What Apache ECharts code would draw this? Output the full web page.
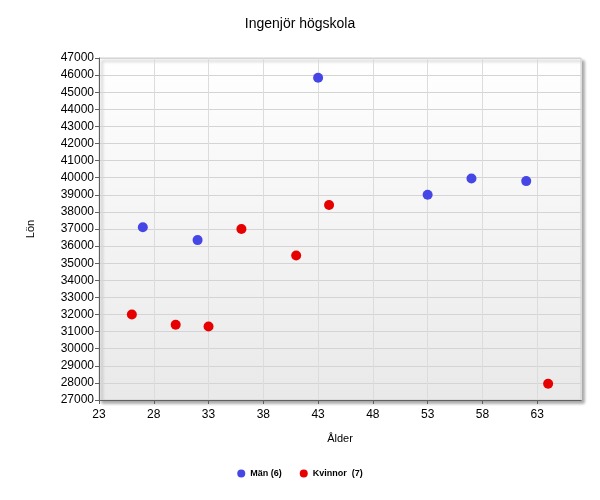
<!DOCTYPE html>
<html>
<head>
<meta charset="utf-8">
<script src="https://cdn.jsdelivr.net/npm/echarts@6/dist/echarts.min.js"></script>
<style>html,body{margin:0;padding:0;background:#fff}#c{width:600px;height:500px}</style>
</head>
<body>
<div id="c"></div>
<script>
const title = 'Ingenjör högskola';
const xName = 'Ålder';
const yName = 'Lön';
const menName = 'Män (6)';
const womenName = 'Kvinnor  (7)';
const menAge = [27, 32, 43, 53, 57, 62];
const menPay = [37100, 36350, 45850, 39000, 39950, 39800];
const womenAge = [26, 30, 33, 36, 41, 44, 64];
const womenPay = [32000, 31400, 31300, 37000, 35450, 38400, 27950];

const pair = (xs, ys) => xs.map((x, i) => [x, ys[i]]);
const font = 'Liberation Sans, Arial, sans-serif';

const chart = echarts.init(document.getElementById('c'));
chart.setOption({
  animation: false,
  title: { text: title, left: 'center', top: 12, textStyle: { fontFamily: font, fontSize: 14, fontWeight: 'normal', color: '#000' } },
  legend: {
    bottom: 17, left: 'center', itemWidth: 8, itemHeight: 8, itemGap: 18,
    textStyle: { fontFamily: font, fontSize: 9, fontWeight: 'bold', color: '#000' },
    data: [{ name: menName, icon: 'circle' }, { name: womenName, icon: 'circle' }]
  },
  grid: {
    left: 99, right: 19, top: 58, bottom: 100, show: true,
    backgroundColor: new echarts.graphic.LinearGradient(0, 0, 0, 1, [{ offset: 0, color: '#ffffff' }, { offset: 1, color: '#e9e9e9' }]),
    borderColor: '#d0d0d0', borderWidth: 1,
    shadowColor: 'rgba(0,0,0,0.35)', shadowBlur: 3, shadowOffsetX: 3, shadowOffsetY: 3
  },
  xAxis: {
    type: 'value', min: 23, max: 67, interval: 5,
    name: xName, nameLocation: 'middle', nameGap: 33,
    nameTextStyle: { fontFamily: font, fontSize: 11, color: '#000' },
    axisLine: { lineStyle: { color: '#606060' } },
    axisTick: { show: true, length: 4, lineStyle: { color: '#606060' } },
    axisLabel: { showMaxLabel: false, fontFamily: font, fontSize: 12, color: '#000', margin: 9 },
    splitLine: { lineStyle: { color: '#dcdcdc' } }
  },
  yAxis: {
    type: 'value', min: 27000, max: 47000, interval: 1000,
    name: yName, nameLocation: 'middle', nameGap: 63, nameRotate: 90,
    nameTextStyle: { fontFamily: font, fontSize: 11, color: '#000' },
    axisLine: { show: true, lineStyle: { color: '#606060' } },
    axisTick: { show: true, length: 4, lineStyle: { color: '#606060' } },
    axisLabel: { fontFamily: font, fontSize: 12, color: '#000', margin: 5, formatter: v => String(v) },
    splitLine: { lineStyle: { color: '#d4d4d4' } }
  },
  series: [
    { name: menName, type: 'scatter', symbol: 'circle', symbolSize: 10, itemStyle: { color: '#4646e6', opacity: 1 }, data: pair(menAge, menPay) },
    { name: womenName, type: 'scatter', symbol: 'circle', symbolSize: 10, itemStyle: { color: '#e60000', opacity: 1 }, data: pair(womenAge, womenPay) }
  ]
});
</script>
</body>
</html>
